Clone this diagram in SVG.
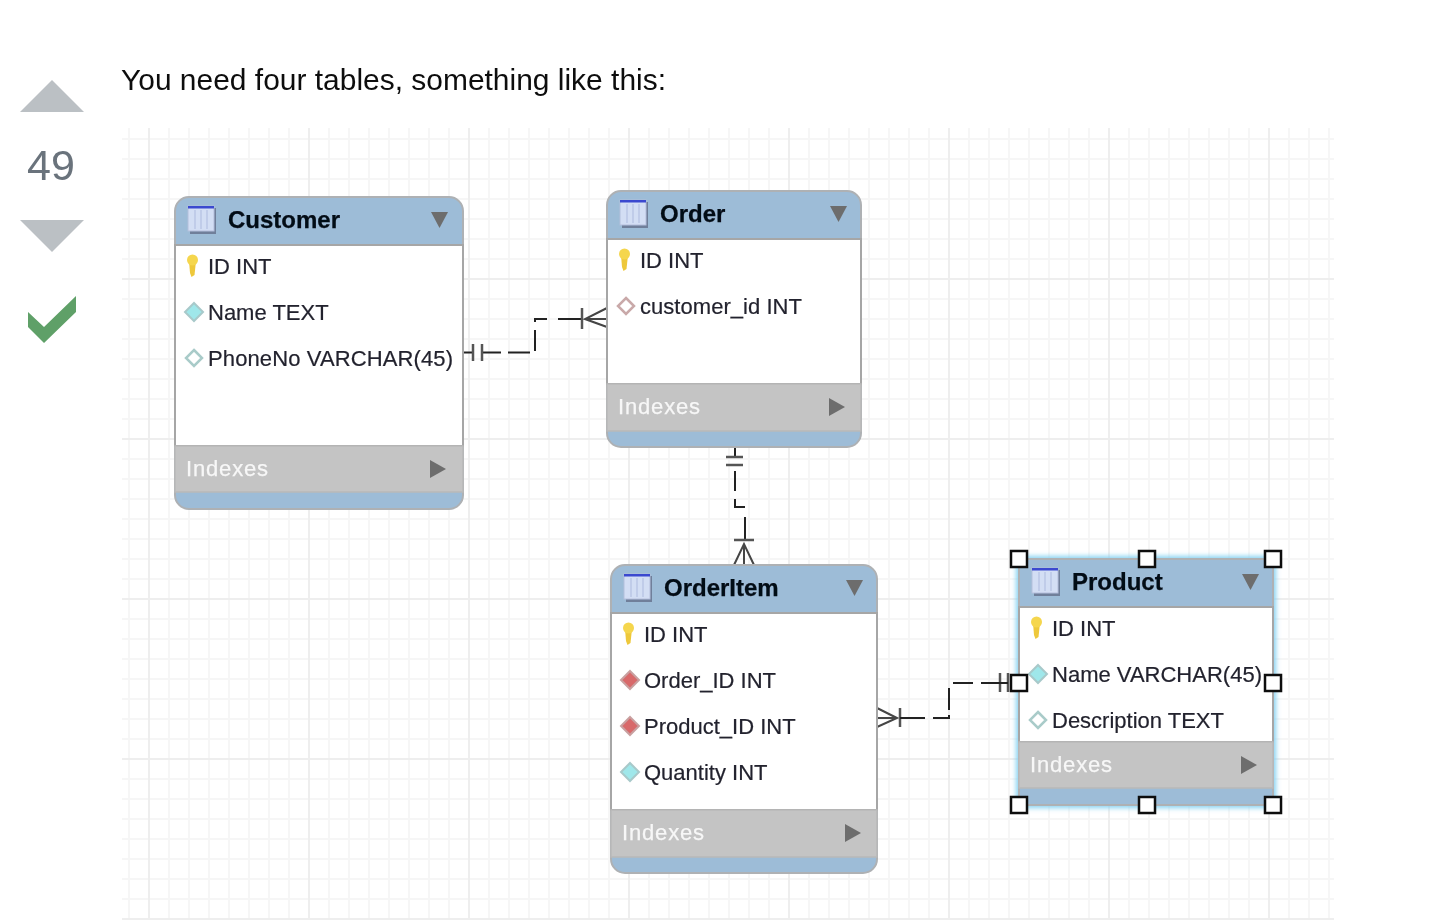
<svg xmlns="http://www.w3.org/2000/svg" width="1432" height="920" viewBox="0 0 1432 920">
<style>
text{font-family:"Liberation Sans",Arial,sans-serif}
.frame{fill:#9dbcd7;stroke:#aeb1b4;stroke-width:2}
.body{fill:#fff;stroke:#a6a6a6;stroke-width:2}
.grey{fill:#c4c4c4;stroke:#b9b9b9;stroke-width:1.5}
.title{font-size:24px;font-weight:bold;fill:#060a14;stroke:#060a14;stroke-width:.25}
.row{font-size:22px;fill:#23232e;stroke:#23232e;stroke-width:.2}
.idx{font-size:22px;fill:#f7f7f7;stroke:#f7f7f7;stroke-width:.25}
.tri{fill:#6d6d6d}
.conn{fill:none;stroke:#222;stroke-width:2}
.tick{fill:none;stroke:#555;stroke-width:2.5}
.foot{fill:none;stroke:#444;stroke-width:2}
.handle{fill:#fff;stroke:#111;stroke-width:2.5}
</style>
<defs>
<pattern id="gridMinor" x="119" y="129" width="20" height="20" patternUnits="userSpaceOnUse">
<path d="M10 0V20M0 10H20" fill="none" stroke="#f6f6f6" stroke-width="2"/>
</pattern>
<filter id="soft" x="-2%" y="-2%" width="104%" height="104%"><feGaussianBlur stdDeviation="0.55"/></filter>
<filter id="glow" x="-10%" y="-10%" width="120%" height="120%"><feGaussianBlur stdDeviation="2.500"/></filter>
<g id="tableIcon">
<rect x="2" y="2" width="26" height="26" fill="#5d6580" opacity="0.7"/>
<rect x="0" y="0" width="26" height="25" fill="#d3def4" stroke="#b4bfdc"/>
<rect x="0" y="0" width="26" height="2.500" fill="#3b48cf"/>
<path d="M7 4V23M13 4V23M19 4V23" stroke="#c0cce9" stroke-width="2"/>
</g>
<g id="key">
<path d="M-3.500 -2 L3.500 -2 L2 12 L-1 14 L-2.500 10 Z" fill="#eec83a"/>
<circle cx="0" cy="-3" r="5.500" fill="#f5d64e"/>
</g>
<polygon id="dCyan" points="0,-9 9,0 0,9 -9,0" fill="#9fe7ea" stroke="#a8c9ca" stroke-width="2"/>
<polygon id="dCyanO" points="0,-8 8,0 0,8 -8,0" fill="#fff" stroke="#a9cbc9" stroke-width="2.500"/>
<polygon id="dRed" points="0,-9 9,0 0,9 -9,0" fill="#d8696b" stroke="#c9a0a0" stroke-width="2"/>
<polygon id="dRedO" points="0,-8 8,0 0,8 -8,0" fill="#fff" stroke="#c9a9a9" stroke-width="2.500"/>
<polygon id="triDown" points="0,0 17,0 8.500,16" class="tri"/>
<polygon id="triRight" points="0,0 16,9 0,18" class="tri"/>
</defs>

<g id="grid" filter="url(#soft)">
<rect x="122" y="128" width="1212" height="792" fill="url(#gridMinor)"/>
<path d="M149 128V920M309 128V920M469 128V920M629 128V920M789 128V920M949 128V920M1109 128V920M1269 128V920M122 279H1334M122 439H1334M122 599H1334M122 759H1334M122 919H1334" fill="none" stroke="#eeeeee" stroke-width="2"/>
</g>

<g id="vote" filter="url(#soft)">
<polygon points="20,112 84,112 52,80" fill="#bbc0c4"/>
<text x="51" y="180" font-size="43" text-anchor="middle" fill="#6a737c">49</text>
<polygon points="20,220 84,220 52,252" fill="#bbc0c4"/>
<polygon points="28,312 44,327 76,296 76,312 44,343 28,327" fill="#5fa067"/>
</g>

<text id="intro" x="121" y="90" font-size="30" fill="#111" filter="url(#soft)" textLength="545" lengthAdjust="spacingAndGlyphs">You need four tables, something like this:</text>

<g id="connectors" filter="url(#soft)">
<path class="conn" d="M463 352.500H473M482 352.500H501M508 352.500H530M535 351V330M535 322V319H547M558 319H582"/>
<path class="tick" d="M473 344V361M482 344V361M582 308V329"/>
<path class="foot" d="M607 308L585 319L607 327M585 319H607"/>
<path class="conn" d="M735 447V457M735 471V491M735 499V507H745M745 517V540"/>
<path class="tick" d="M726 457H743M726 465H743M734 540H754"/>
<path class="foot" d="M734 565L744 544L754 565M744 544V565"/>
<path class="foot" d="M877 708L897 718L877 727M877 718H897"/>
<path class="tick" d="M900 708V727M1000 673V692M1008 673V692"/>
<path class="conn" d="M900 718H925M933 718H949V715M949 710V688M953 683H973M981 683H1008"/>
</g>

<g id="customer" transform="translate(175 197)" filter="url(#soft)">
<rect class="frame" width="288" height="312" rx="14"/>
<rect class="body" y="48" width="288" height="201"/>
<rect class="grey" y="249" width="288" height="46"/>
<use href="#tableIcon" x="13" y="9"/>
<text class="title" x="53" y="31">Customer</text>
<use href="#triDown" x="256" y="15"/>
<use href="#key" x="17.500" y="66"/>
<text class="row" x="33" y="77">ID INT</text>
<use href="#dCyan" x="19" y="115"/>
<text class="row" x="33" y="123">Name TEXT</text>
<use href="#dCyanO" x="19" y="161"/>
<text class="row" x="33" y="169" textLength="245">PhoneNo VARCHAR(45)</text>
<text class="idx" x="11" y="279" textLength="82">Indexes</text>
<use href="#triRight" x="255" y="263"/>
</g>

<g id="order" transform="translate(607 191)" filter="url(#soft)">
<rect class="frame" width="254" height="256" rx="14"/>
<rect class="body" y="48" width="254" height="145"/>
<rect class="grey" y="193" width="254" height="47"/>
<use href="#tableIcon" x="13" y="9"/>
<text class="title" x="53" y="31">Order</text>
<use href="#triDown" x="223" y="15"/>
<use href="#key" x="17.500" y="66"/>
<text class="row" x="33" y="77">ID INT</text>
<use href="#dRedO" x="19" y="115"/>
<text class="row" x="33" y="123" textLength="162">customer_id INT</text>
<text class="idx" x="11" y="223" textLength="82">Indexes</text>
<use href="#triRight" x="222" y="207"/>
</g>

<g id="orderitem" transform="translate(611 565)" filter="url(#soft)">
<rect class="frame" width="266" height="308" rx="14"/>
<rect class="body" y="48" width="266" height="197"/>
<rect class="grey" y="245" width="266" height="47"/>
<use href="#tableIcon" x="13" y="9"/>
<text class="title" x="53" y="31">OrderItem</text>
<use href="#triDown" x="235" y="15"/>
<use href="#key" x="17.500" y="66"/>
<text class="row" x="33" y="77">ID INT</text>
<use href="#dRed" x="19" y="115"/>
<text class="row" x="33" y="123">Order_ID INT</text>
<use href="#dRed" x="19" y="161"/>
<text class="row" x="33" y="169">Product_ID INT</text>
<use href="#dCyan" x="19" y="207"/>
<text class="row" x="33" y="215">Quantity INT</text>
<text class="idx" x="11" y="275" textLength="82">Indexes</text>
<use href="#triRight" x="234" y="259"/>
</g>

<g id="product" transform="translate(1019 559)">
<rect x="-3" y="-3" width="260" height="252" fill="#86d2f2" filter="url(#glow)"/>
<g filter="url(#soft)">
<rect class="frame" width="254" height="246"/>
<rect class="body" y="48" width="254" height="135"/>
<rect class="grey" y="183" width="254" height="46"/>
<use href="#tableIcon" x="13" y="9"/>
<text class="title" x="53" y="31">Product</text>
<use href="#triDown" x="223" y="15"/>
<use href="#key" x="17.500" y="66"/>
<text class="row" x="33" y="77">ID INT</text>
<use href="#dCyan" x="19" y="115"/>
<text class="row" x="33" y="123" textLength="210">Name VARCHAR(45)</text>
<use href="#dCyanO" x="19" y="161"/>
<text class="row" x="33" y="169">Description TEXT</text>
<text class="idx" x="11" y="213" textLength="82">Indexes</text>
<use href="#triRight" x="222" y="197"/>
<rect class="handle" x="-8" y="-8" width="16" height="16"/>
<rect class="handle" x="120" y="-8" width="16" height="16"/>
<rect class="handle" x="246" y="-8" width="16" height="16"/>
<rect class="handle" x="-8" y="116" width="16" height="16"/>
<rect class="handle" x="246" y="116" width="16" height="16"/>
<rect class="handle" x="-8" y="238" width="16" height="16"/>
<rect class="handle" x="120" y="238" width="16" height="16"/>
<rect class="handle" x="246" y="238" width="16" height="16"/>
</g>
</g>
</svg>
